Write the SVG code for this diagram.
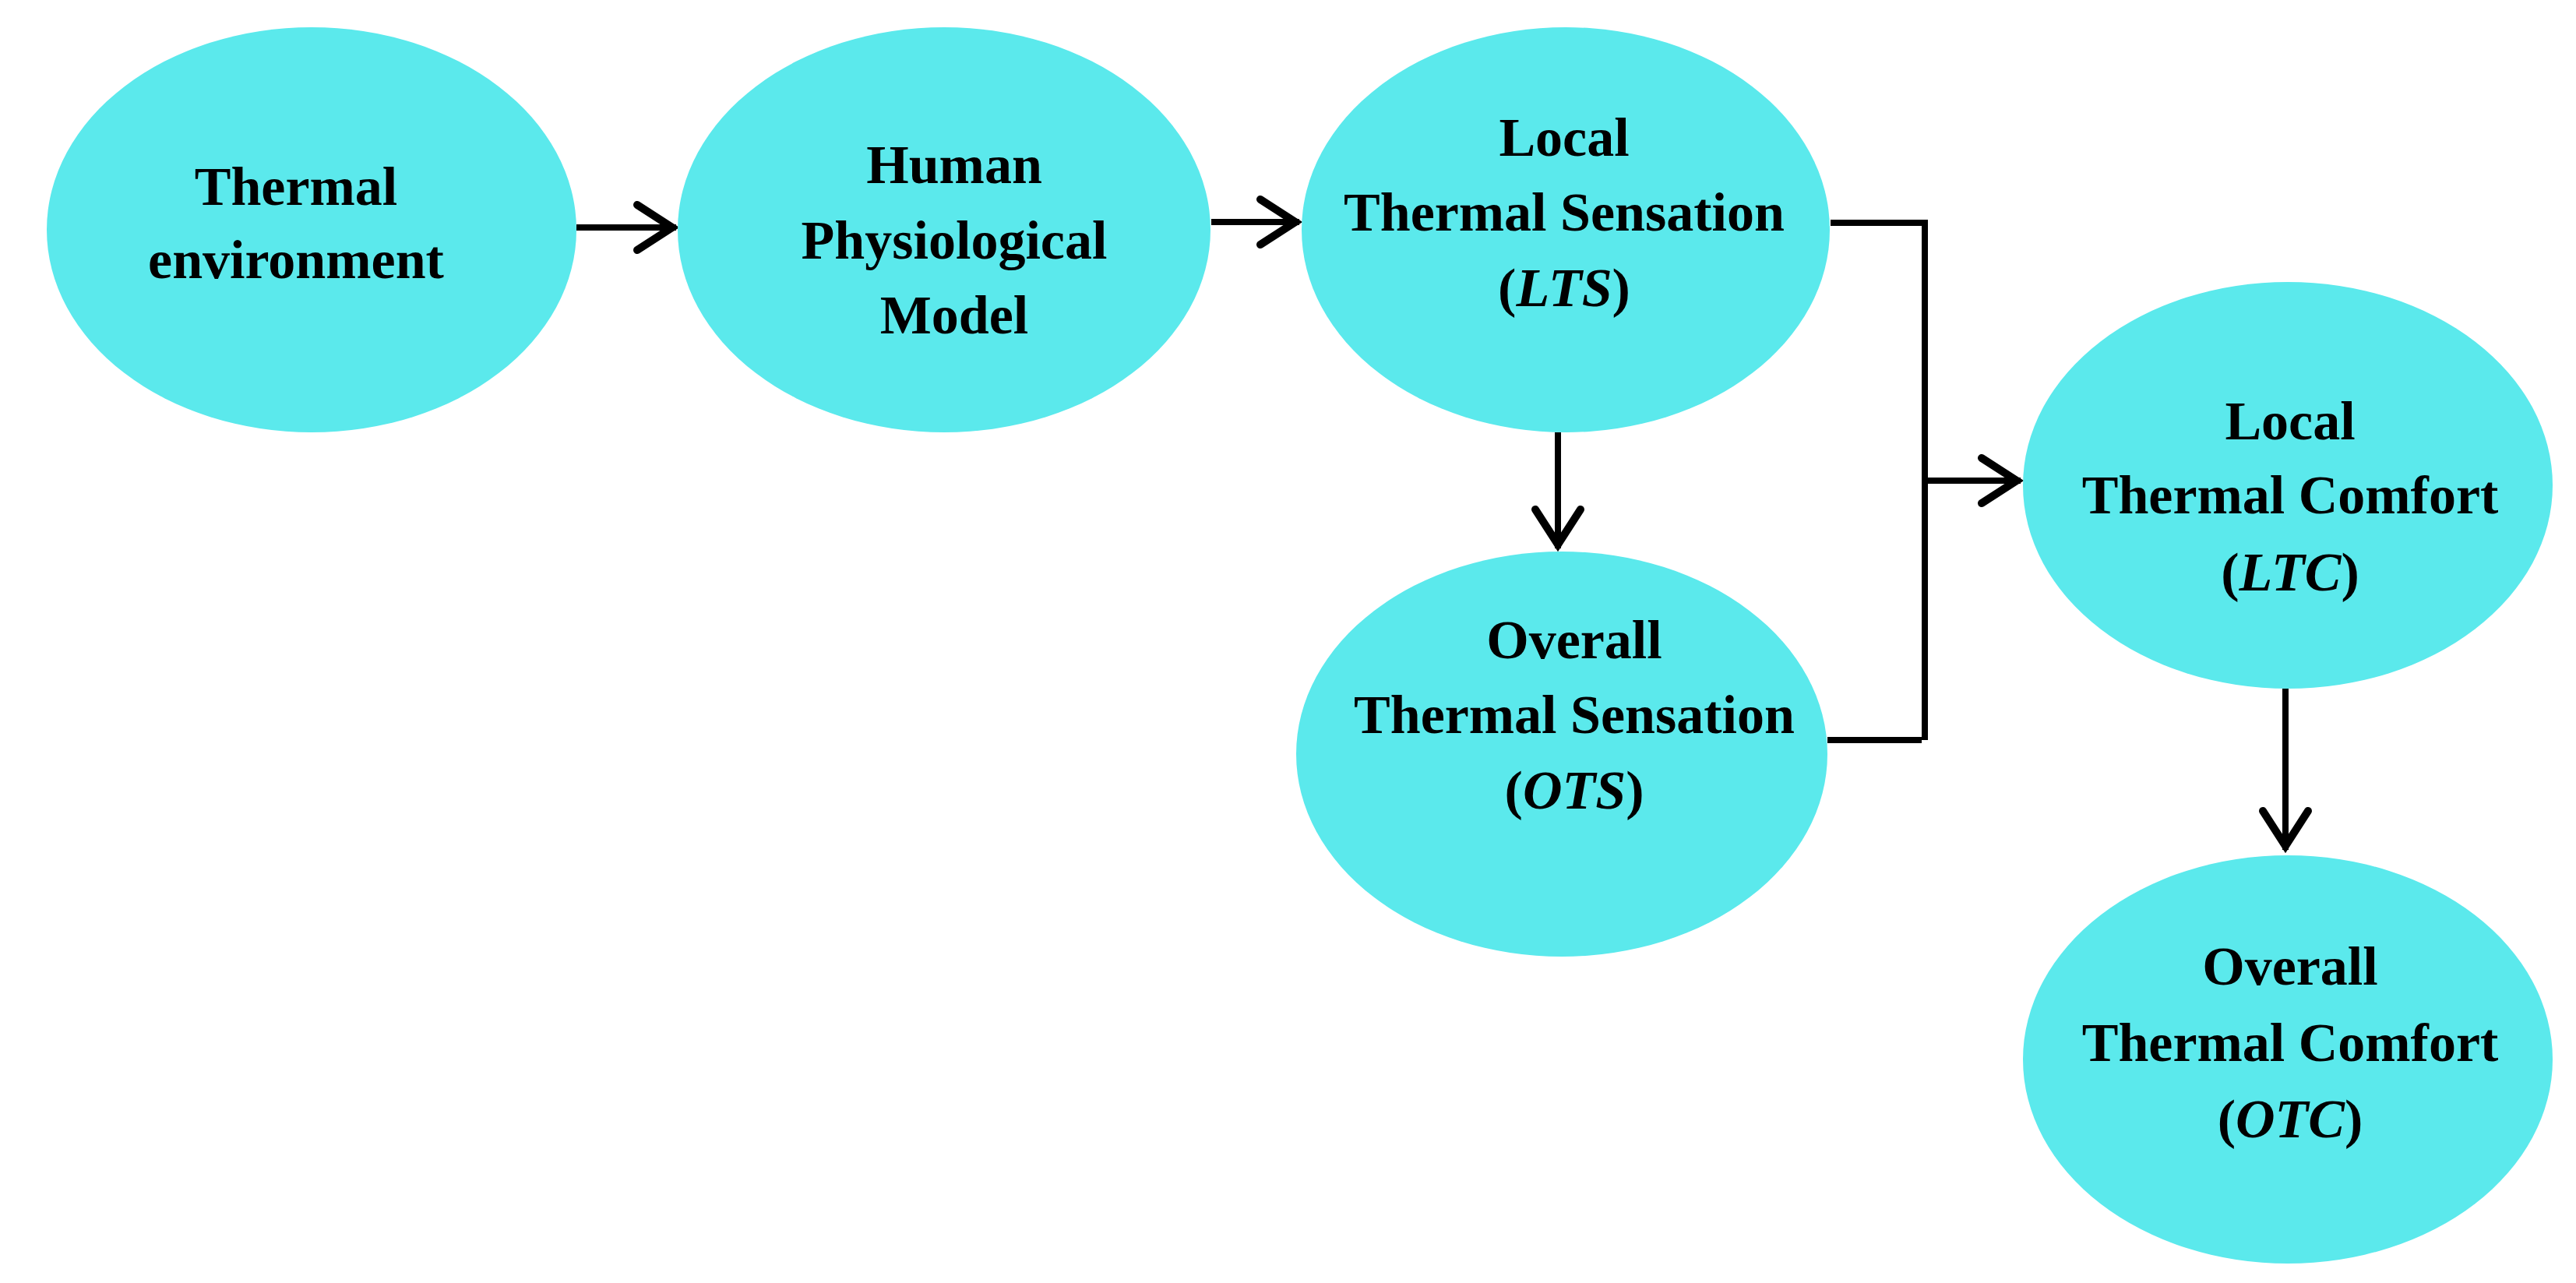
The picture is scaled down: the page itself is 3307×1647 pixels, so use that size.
<svg xmlns="http://www.w3.org/2000/svg" width="3307" height="1647" viewBox="0 0 3307 1647">
<style>
  .node ellipse { fill: #5BE9EC; }
  .node text { font-family: "Liberation Serif", "Times New Roman", serif; font-weight: bold; font-size: 70px; fill: #000; text-anchor: middle; }
  .ab { font-style: italic; }
  .conn { fill: none; stroke: #000; stroke-width: 8; }
</style>
<defs>
  <marker id="arr" markerUnits="userSpaceOnUse" viewBox="-62 -40 68 80" refX="0" refY="0" markerWidth="68" markerHeight="80" orient="auto">
    <path d="M-50,-29 L-5,0 L-50,29" fill="none" stroke="#000" stroke-width="10" stroke-linejoin="miter" stroke-linecap="round"/>
  </marker>
</defs>
<rect width="3307" height="1647" fill="#fff"/>
<g id="connectors">
  <path class="conn" d="M740,292 L868,292" marker-end="url(#arr)"/>
  <path class="conn" d="M1555,285 L1668,285" marker-end="url(#arr)"/>
  <path class="conn" d="M2000,555 L2000,704" marker-end="url(#arr)"/>
  <path class="conn" d="M2350,286 L2471,286 L2471,950"/>
  <path class="conn" d="M2346,950 L2467,950"/>
  <path class="conn" d="M2471,617 L2594,617" marker-end="url(#arr)"/>
  <path class="conn" d="M2934,884 L2934,1091" marker-end="url(#arr)"/>
</g>
<g id="node-thermal-environment" class="node">
  <ellipse cx="400" cy="295" rx="340" ry="260"/>
  <text x="380" y="263">Thermal</text>
  <text x="380" y="357">environment</text>
</g>
<g id="node-human-physiological-model" class="node">
  <ellipse cx="1212" cy="295" rx="342" ry="260"/>
  <text x="1225" y="235">Human</text>
  <text x="1225" y="332">Physiological</text>
  <text x="1225" y="428">Model</text>
</g>
<g id="node-lts" class="node">
  <ellipse cx="2010" cy="295" rx="339" ry="260"/>
  <text x="2008" y="200">Local</text>
  <text x="2008" y="296">Thermal Sensation</text>
  <text x="2008" y="393">(<tspan class="ab">LTS</tspan>)</text>
</g>
<g id="node-ots" class="node">
  <ellipse cx="2005" cy="968" rx="341" ry="260"/>
  <text x="2021" y="845">Overall</text>
  <text x="2021" y="941">Thermal Sensation</text>
  <text x="2021" y="1038">(<tspan class="ab">OTS</tspan>)</text>
</g>
<g id="node-ltc" class="node">
  <ellipse cx="2937" cy="623" rx="340" ry="261"/>
  <text x="2940" y="564">Local</text>
  <text x="2940" y="659">Thermal Comfort</text>
  <text x="2940" y="758">(<tspan class="ab">LTC</tspan>)</text>
</g>
<g id="node-otc" class="node">
  <ellipse cx="2937" cy="1360" rx="340" ry="262"/>
  <text x="2940" y="1264">Overall</text>
  <text x="2940" y="1362">Thermal Comfort</text>
  <text x="2940" y="1460">(<tspan class="ab">OTC</tspan>)</text>
</g>
</svg>
